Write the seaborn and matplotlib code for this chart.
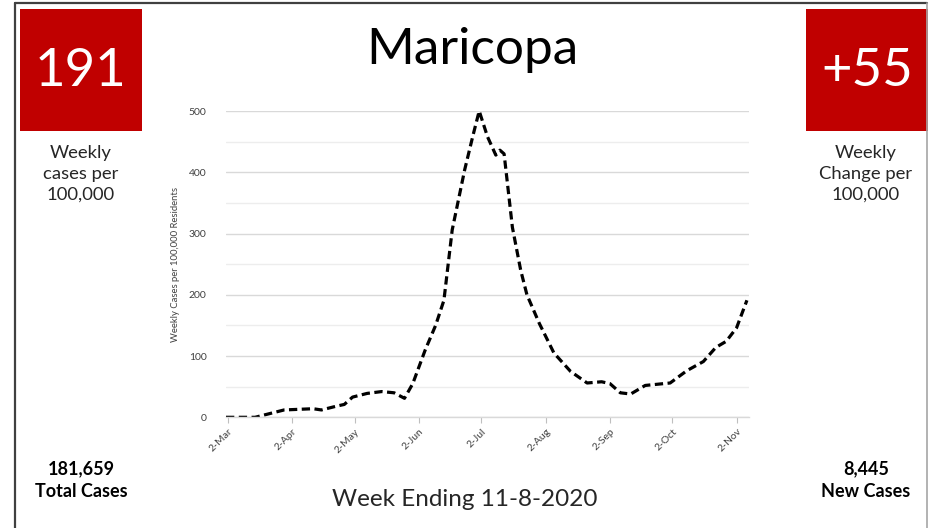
import matplotlib
matplotlib.use("Agg")
import matplotlib.pyplot as plt
from matplotlib.lines import Line2D
from matplotlib.patches import Rectangle
import pandas as pd
import seaborn as sns

# weekly cases per 100,000
DATES = [
    "2020-03-01", "2020-03-15", "2020-03-22", "2020-03-29", "2020-04-05",
    "2020-04-12", "2020-04-16", "2020-04-23", "2020-04-27", "2020-05-01",
    "2020-05-08", "2020-05-15", "2020-05-21", "2020-05-26", "2020-05-30",
    "2020-06-05", "2020-06-10", "2020-06-14", "2020-06-18", "2020-06-24",
    "2020-06-28", "2020-07-01", "2020-07-05", "2020-07-09", "2020-07-11",
    "2020-07-13", "2020-07-17", "2020-07-21", "2020-07-24", "2020-07-30",
    "2020-08-06", "2020-08-14", "2020-08-22", "2020-08-29", "2020-09-02",
    "2020-09-07", "2020-09-12", "2020-09-19", "2020-10-01", "2020-10-09",
    "2020-10-17", "2020-10-23", "2020-10-28", "2020-11-02", "2020-11-07",
]
CASES = [
    0, 0, 6, 12, 13,
    14, 12, 18, 21, 33,
    39, 42, 40, 31, 55,
    110, 150, 191, 306, 404,
    460, 500, 458, 428, 436,
    430, 310, 240, 200, 153,
    105, 75, 56, 58, 55,
    40, 38, 52, 56, 76,
    91, 114, 124, 146, 191,
]
TICK_DATES = ["2020-03-02", "2020-04-02", "2020-05-02", "2020-06-02", "2020-07-02",
              "2020-08-02", "2020-09-02", "2020-10-02", "2020-11-02"]
TICK_LABELS = ["2-Mar", "2-Apr", "2-May", "2-Jun", "2-Jul", "2-Aug", "2-Sep", "2-Oct", "2-Nov"]

COUNTY = "Maricopa"
WEEKLY_RATE = "191"
WEEKLY_CHANGE = "+55"
TOTAL_CASES = "181,659"
NEW_CASES = "8,445"
WEEK_ENDING = "Week Ending 11-8-2020"

RED = "#C00000"
TEXT = "#262626"

sns.set_theme(style="white")
plt.rcParams["font.family"] = ["Lato", "DejaVu Sans"]

df = pd.DataFrame({"date": pd.to_datetime(DATES), "cases": CASES})

fig = plt.figure(figsize=(9.3, 5.28), dpi=100)
W, H = 930, 528


def fx(px):
    return px / W


def fy(py):
    return 1 - py / H


# outer frame: dark left/top, light right, bottom runs off the picture
fig.add_artist(Line2D([fx(15), fx(15)], [fy(3), 0], transform=fig.transFigure, color="#404040", lw=1.6))
fig.add_artist(Line2D([fx(15), fx(927)], [fy(3), fy(3)], transform=fig.transFigure, color="#404040", lw=1.6))
fig.add_artist(Line2D([fx(927), fx(927)], [fy(3), 0], transform=fig.transFigure, color="#a6a6a6", lw=1.2))

ax = fig.add_axes([fx(226), fy(417.3), fx(749 - 226), (417.3 - 111) / H])
sns.lineplot(data=df, x="date", y="cases", ax=ax, color="black", lw=2.3)
ax.lines[0].set_dashes([2.6, 1.4])

ax.set_xlim(pd.Timestamp("2020-03-01"), pd.Timestamp("2020-11-08"))
ax.set_ylim(0, 500)
ax.set_yticks(range(0, 501, 100))
ax.set_yticks(range(50, 501, 100), minor=True)
ax.grid(axis="y", which="major", color="#d9d9d9", lw=1.0)
ax.grid(axis="y", which="minor", color="#ededed", lw=1.0)
ax.set_axisbelow(True)
for side in ["top", "right", "left"]:
    ax.spines[side].set_visible(False)
ax.spines["bottom"].set_color("#d9d9d9")
ax.spines["bottom"].set_linewidth(1.0)

ax.set_xticks(pd.to_datetime(TICK_DATES))
ax.set_xticklabels(TICK_LABELS, rotation=45, ha="right", rotation_mode="anchor")
ax.tick_params(axis="x", which="major", bottom=True, length=4, width=0.8, color="#bfbfbf",
               labelsize=7.5, labelcolor="#404040", pad=3)
ax.tick_params(axis="y", which="both", left=False, labelsize=7.5, labelcolor="#404040", pad=8)
ax.set_xlabel("")
ax.set_ylabel("Weekly Cases per 100,000 Residents", fontsize=6.8, color="#404040", labelpad=6)

# title and footer
fig.text(fx(472), fy(50), COUNTY, ha="center", va="center", fontsize=37, color="black")
fig.text(fx(465), fy(500), WEEK_ENDING, ha="center", va="center", fontsize=17.5, color=TEXT)

# red boxes
for x0, val in [(20, WEEKLY_RATE), (806, WEEKLY_CHANGE)]:
    fig.add_artist(Rectangle((fx(x0), fy(131)), fx(122), 122 / H, transform=fig.transFigure,
                             facecolor=RED, edgecolor="none"))
    fig.text(fx(x0 + 61), fy(72), val, ha="center", va="center", fontsize=38, color="white")

fig.text(fx(81), fy(174), "Weekly\ncases per\n100,000", ha="center", va="center",
         fontsize=13.3, color=TEXT, linespacing=1.35)
fig.text(fx(866), fy(174), "Weekly\nChange per\n100,000", ha="center", va="center",
         fontsize=13.3, color=TEXT, linespacing=1.35)

fig.text(fx(81), fy(480), f"{TOTAL_CASES}\nTotal Cases", ha="center", va="center",
         fontsize=13, fontweight="bold", color="black", linespacing=1.4)
fig.text(fx(866), fy(480), f"{NEW_CASES}\nNew Cases", ha="center", va="center",
         fontsize=13, fontweight="bold", color="black", linespacing=1.4)

fig.savefig("out.png", dpi=100)
